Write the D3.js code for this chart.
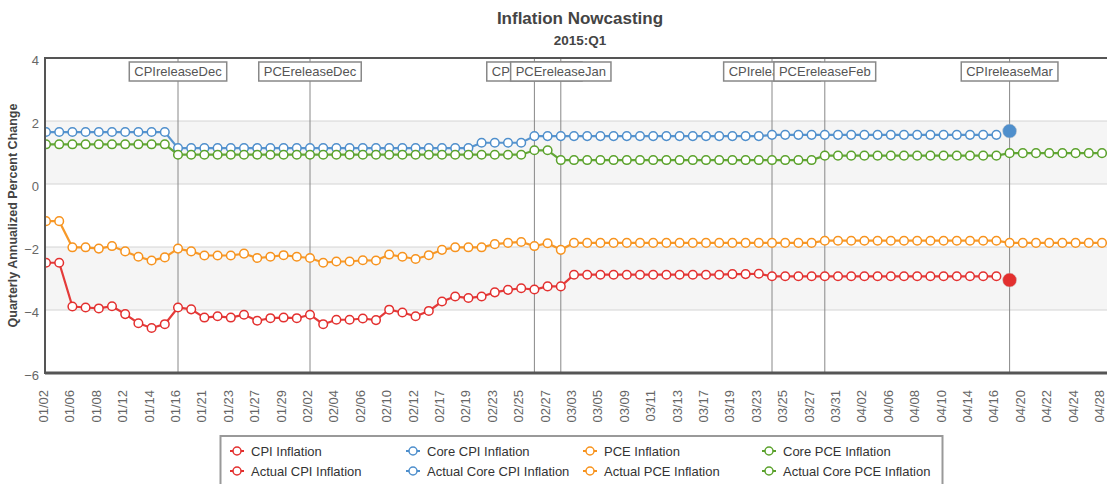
<!DOCTYPE html>
<html>
<head>
<meta charset="utf-8">
<script src="https://cdn.jsdelivr.net/npm/d3@7"></script>
<style>
  html, body { margin: 0; padding: 0; background: #fff; }
  svg { display: block; font-family: "Liberation Sans", Arial, sans-serif; }
</style>
</head>
<body>
<svg id="chart" width="1107" height="484"></svg>
<script>
const categories = [
  "01/02","01/05","01/06","01/07","01/08","01/09","01/12","01/13","01/14","01/15",
  "01/16","01/20","01/21","01/22","01/23","01/26","01/27","01/28","01/29","01/30",
  "02/02","02/03","02/04","02/05","02/06","02/09","02/10","02/11","02/12","02/13",
  "02/17","02/18","02/19","02/20","02/23","02/24","02/25","02/26","02/27","03/02",
  "03/03","03/04","03/05","03/06","03/09","03/10","03/11","03/12","03/13","03/16",
  "03/17","03/18","03/19","03/20","03/23","03/24","03/25","03/26","03/27","03/30",
  "03/31","04/01","04/02","04/03","04/06","04/07","04/08","04/09","04/10","04/13",
  "04/14","04/15","04/16","04/17","04/20","04/21","04/22","04/23","04/24","04/27",
  "04/28"
];

const cpiInflation = [
  -2.5,-2.5,-3.89,-3.92,-3.95,-3.88,-4.13,-4.42,-4.57,-4.45,
  -3.92,-3.98,-4.24,-4.2,-4.24,-4.15,-4.34,-4.26,-4.24,-4.26,
  -4.15,-4.45,-4.31,-4.31,-4.27,-4.32,-3.99,-4.08,-4.2,-4.03,
  -3.73,-3.57,-3.62,-3.57,-3.44,-3.36,-3.31,-3.35,-3.25,-3.25,
  -2.88,-2.88,-2.88,-2.88,-2.88,-2.88,-2.88,-2.88,-2.88,-2.88,
  -2.88,-2.88,-2.86,-2.86,-2.85,-2.93,-2.93,-2.93,-2.93,-2.93,
  -2.93,-2.93,-2.93,-2.93,-2.93,-2.93,-2.93,-2.93,-2.93,-2.93,
  -2.93,-2.93,-2.93
];
const coreCpiInflation = [
  1.65,1.65,1.65,1.65,1.65,1.65,1.65,1.65,1.65,1.65,
  1.14,1.14,1.14,1.14,1.14,1.14,1.14,1.14,1.14,1.14,
  1.14,1.14,1.14,1.14,1.14,1.14,1.14,1.14,1.14,1.14,
  1.14,1.14,1.14,1.31,1.31,1.31,1.31,1.52,1.52,1.52,
  1.52,1.52,1.52,1.52,1.52,1.52,1.52,1.52,1.52,1.52,
  1.52,1.52,1.52,1.52,1.52,1.56,1.56,1.56,1.56,1.56,
  1.56,1.56,1.56,1.56,1.56,1.56,1.56,1.56,1.56,1.56,
  1.56,1.56,1.56
];
const pceInflation = [
  -1.18,-1.18,-2.01,-2.01,-2.05,-1.97,-2.14,-2.31,-2.43,-2.33,
  -2.05,-2.14,-2.27,-2.27,-2.27,-2.21,-2.35,-2.31,-2.26,-2.31,
  -2.35,-2.5,-2.46,-2.46,-2.42,-2.43,-2.24,-2.31,-2.38,-2.26,
  -2.09,-2.01,-2.01,-2.01,-1.91,-1.87,-1.84,-1.97,-1.88,-2.09,
  -1.87,-1.87,-1.87,-1.87,-1.87,-1.87,-1.87,-1.87,-1.87,-1.87,
  -1.87,-1.87,-1.87,-1.87,-1.87,-1.87,-1.87,-1.87,-1.87,-1.8,
  -1.8,-1.8,-1.8,-1.8,-1.8,-1.8,-1.8,-1.8,-1.8,-1.8,
  -1.8,-1.8,-1.8,-1.87,-1.87,-1.87,-1.87,-1.87,-1.87,-1.87,
  -1.87
];
const corePceInflation = [
  1.26,1.26,1.26,1.26,1.26,1.26,1.26,1.26,1.26,1.26,
  0.93,0.93,0.93,0.93,0.93,0.93,0.93,0.93,0.93,0.93,
  0.93,0.93,0.93,0.93,0.93,0.93,0.93,0.93,0.93,0.93,
  0.93,0.93,0.93,0.93,0.93,0.93,0.93,1.07,1.07,0.76,
  0.76,0.76,0.76,0.76,0.76,0.76,0.76,0.76,0.76,0.76,
  0.76,0.76,0.76,0.76,0.76,0.76,0.76,0.76,0.76,0.9,
  0.9,0.9,0.9,0.9,0.9,0.9,0.9,0.9,0.9,0.9,
  0.9,0.9,0.9,0.98,0.98,0.98,0.98,0.98,0.98,0.98,
  0.98
];
const actualCpiInflation = [{date: "04/17", value: -3.05}];
const actualCoreCpiInflation = [{date: "04/17", value: 1.68}];
const actualPceInflation = [];
const actualCorePceInflation = [];

const releaseNames = ["CPIreleaseDec","PCEreleaseDec","CPIreleaseJan","PCEreleaseJan","CPIreleaseFeb","PCEreleaseFeb","CPIreleaseMar"];
const releaseDates = ["01/16","02/02","02/26","03/02","03/24","03/30","04/17"];

const yTicks = [4, 2, 0, -2, -4, -6];
const xTickLabels = categories.filter((d, i) => i % 2 === 0);

const seriesNames = ["CPI Inflation","Core CPI Inflation","PCE Inflation","Core PCE Inflation",
  "Actual CPI Inflation","Actual Core CPI Inflation","Actual PCE Inflation","Actual Core PCE Inflation"];
const seriesColors = ["#e3302f","#4f8fcc","#f7931e","#5ba22c","#e3302f","#4f8fcc","#f7931e","#5ba22c"];

// ---- drawing ----
const plot = {left: 45, top: 58, right: 1125, bottom: 373};
const svg = d3.select("#chart");

const x = d3.scalePoint().domain(categories).range([46, 1102]).padding(0);
const y = d3.scaleLinear().domain([-6, 4]).range([plot.bottom, plot.top]);

// title
svg.append("text").attr("x", 580).attr("y", 24).attr("text-anchor", "middle")
  .attr("font-size", 17).attr("font-weight", "bold").attr("fill", "#444").text("Inflation Nowcasting");
svg.append("text").attr("x", 580).attr("y", 45).attr("text-anchor", "middle")
  .attr("font-size", 13.5).attr("font-weight", "bold").attr("fill", "#444").text("2015:Q1");

// alternate bands
const bandPairs = [[2, 0], [-2, -4]];
svg.append("g").selectAll("rect").data(bandPairs).join("rect")
  .attr("x", plot.left).attr("width", plot.right - plot.left)
  .attr("y", d => y(d[0])).attr("height", d => y(d[1]) - y(d[0]))
  .attr("fill", "#f5f5f5");

// gridlines
svg.append("g").selectAll("line").data(yTicks).join("line")
  .attr("x1", plot.left).attr("x2", plot.right)
  .attr("y1", d => y(d)).attr("y2", d => y(d))
  .attr("stroke", "#d4d4d4").attr("stroke-width", 1);

// y axis labels
const yAxis = d3.axisLeft(y).tickValues(yTicks).tickSize(0).tickPadding(5).tickFormat(d3.format("d"));
const yg = svg.append("g").attr("transform", `translate(${plot.left - 1},2)`).call(yAxis);
yg.select(".domain").remove();
yg.selectAll("text").attr("font-size", 13).attr("fill", "#666").attr("font-family", "Liberation Sans, Arial, sans-serif");

// y axis title
svg.append("text").attr("transform", `translate(17,${(plot.top + plot.bottom) / 2}) rotate(-90)`)
  .attr("text-anchor", "middle").attr("font-size", 12.5).attr("font-weight", "bold").attr("fill", "#444")
  .text("Quarterly Annualized Percent Change");

// x axis labels
const xAxis = d3.axisBottom(x).tickValues(xTickLabels).tickSize(0).tickPadding(0);
const xg = svg.append("g").attr("transform", `translate(0,${plot.bottom})`).call(xAxis);
xg.select(".domain").remove();
xg.selectAll("text")
  .attr("font-size", 13).attr("fill", "#666").attr("font-family", "Liberation Sans, Arial, sans-serif")
  .attr("text-anchor", "end")
  .attr("transform", "translate(-3,17) rotate(-90)")
  .attr("x", 0).attr("y", 0).attr("dy", "0.35em");

// plot lines
svg.append("defs").append("clipPath").attr("id", "clipPlot")
  .append("rect").attr("x", plot.left).attr("y", plot.top - 10).attr("width", plot.right - plot.left).attr("height", plot.bottom - plot.top + 20);

svg.append("g").selectAll("line").data(releaseDates).join("line")
  .attr("x1", d => x(d)).attr("x2", d => x(d))
  .attr("y1", plot.top).attr("y2", plot.bottom)
  .attr("stroke", "#888").attr("stroke-width", 1);

// series lines and markers
const lineSeries = [
  {vals: cpiInflation, color: seriesColors[0]},
  {vals: coreCpiInflation, color: seriesColors[1]},
  {vals: pceInflation, color: seriesColors[2]},
  {vals: corePceInflation, color: seriesColors[3]}
];
const lineGen = d3.line().x(d => x(d.c)).y(d => y(d.v));
const sg = svg.append("g").attr("clip-path", "url(#clipPlot)");
lineSeries.forEach(s => {
  const pts = s.vals.map((v, i) => ({c: categories[i], v}));
  sg.append("path").datum(pts).attr("d", lineGen)
    .attr("fill", "none").attr("stroke", s.color).attr("stroke-width", 2.2).attr("opacity", 0.95);
  sg.append("g").selectAll("circle").data(pts).join("circle")
    .attr("cx", d => x(d.c)).attr("cy", d => y(d.v)).attr("r", 4.3)
    .attr("fill", "#fff").attr("stroke", s.color).attr("stroke-width", 1.5);
});

// actual points
const actualSeries = [
  {vals: actualCpiInflation, color: seriesColors[4]},
  {vals: actualCoreCpiInflation, color: seriesColors[5]},
  {vals: actualPceInflation, color: seriesColors[6]},
  {vals: actualCorePceInflation, color: seriesColors[7]}
];
actualSeries.forEach(s => {
  sg.append("g").selectAll("circle").data(s.vals).join("circle")
    .attr("cx", d => x(d.date)).attr("cy", d => y(d.value)).attr("r", 7)
    .attr("fill", s.color).attr("stroke", "#ccc").attr("stroke-width", 0.5);
});

// plot border
svg.append("rect").attr("x", plot.left).attr("y", plot.top).attr("width", plot.right - plot.left)
  .attr("height", plot.bottom - plot.top).attr("fill", "none").attr("stroke", "#555").attr("stroke-width", 2);
svg.append("line").attr("x1", plot.left).attr("x2", plot.right).attr("y1", plot.bottom).attr("y2", plot.bottom)
  .attr("stroke", "#555").attr("stroke-width", 3);

// plot line labels
releaseNames.forEach((name, i) => {
  const cx = x(releaseDates[i]);
  const g = svg.append("g");
  const t = g.append("text").attr("x", cx).attr("y", 76).attr("text-anchor", "middle")
    .attr("font-size", 13).attr("fill", "#555").text(name);
  const bw = t.node().getComputedTextLength() + 10;
  g.insert("rect", "text").attr("x", cx - bw / 2).attr("y", 62).attr("width", bw).attr("height", 19)
    .attr("fill", "#fff").attr("stroke", "#888").attr("stroke-width", 1.5);
});

// legend
const legend = svg.append("g");
legend.append("rect").attr("x", 220.5).attr("y", 436).attr("width", 722).attr("height", 60)
  .attr("fill", "#fff").attr("stroke", "#999").attr("stroke-width", 2);
const colX = [237, 413, 590, 769];
const rowY = [451, 471];
seriesNames.forEach((name, i) => {
  const cx = colX[i % 4], cy = rowY[Math.floor(i / 4)];
  const g = legend.append("g");
  g.append("line").attr("x1", cx - 7).attr("x2", cx + 7).attr("y1", cy).attr("y2", cy)
    .attr("stroke", seriesColors[i]).attr("stroke-width", 2);
  g.append("circle").attr("cx", cx).attr("cy", cy).attr("r", 4).attr("fill", "#fff")
    .attr("stroke", seriesColors[i]).attr("stroke-width", 1.5);
  g.append("text").attr("x", cx + 14).attr("y", cy).attr("dy", "0.35em")
    .attr("font-size", 13).attr("fill", "#333").text(name);
});
</script>
</body>
</html>
